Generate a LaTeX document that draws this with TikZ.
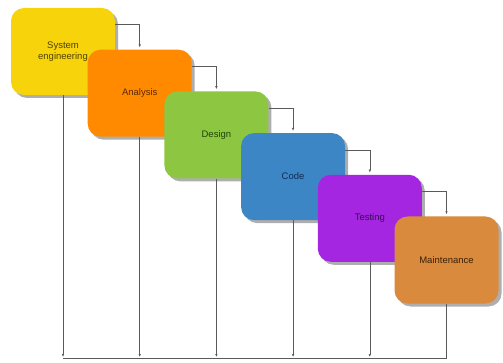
\documentclass[tikz,border=0pt]{standalone}
\usepackage{fontspec}
\setmainfont{Liberation Sans}
\usetikzlibrary{shadows,arrows.meta}
\definecolor{sysfill}{HTML}{F6D30A}\definecolor{systext}{HTML}{4F4200}
\definecolor{anafill}{HTML}{FF8A00}\definecolor{anatext}{HTML}{5A2A00}
\definecolor{desfill}{HTML}{8DC640}\definecolor{destext}{HTML}{1F4408}
\definecolor{codfill}{HTML}{3D86C6}\definecolor{codtext}{HTML}{0E2C55}
\definecolor{tesfill}{HTML}{A526E0}\definecolor{testext}{HTML}{3A0858}
\definecolor{maifill}{HTML}{D98A3C}\definecolor{maitext}{HTML}{3A2004}
\definecolor{wire}{HTML}{5A5A5A}
\begin{document}
\begin{tikzpicture}[x=1pt,y=-1pt,
    stagebox/.style={rounded corners=13pt, minimum width=104pt, minimum height=87pt,
      inner sep=0pt, align=center, font=\fontsize{9.5}{10.5}\selectfont,
      drop shadow={shadow xshift=3pt, shadow yshift=-3pt, opacity=0.45, fill=black!70}},
    wireline/.style={wire, line width=0.6pt},
    >={Latex[length=3pt,width=2.5pt]}]
  \useasboundingbox (0,0) rectangle (503,363);
  % stages, one step right and down each
  \foreach \nm/\lbl [count=\i from 0] in {sys/{System\\engineering}, ana/Analysis,
      des/Design, cod/Code, tes/Testing, mai/Maintenance}
    {
      \node[stagebox, fill=\nm fill, text=\nm text] (\nm) at (63+76.7*\i,51.5+41.7*\i) {\lbl};
    }
  % connectors between stages
  \foreach \a/\b in {sys/ana, ana/des, des/cod, cod/tes, tes/mai}
    \draw[wireline, ->, shorten >=2pt] ([yshift=-17pt]\a.north east) -| (\b.north);
  % feedback lines
  \coordinate (base) at (0,358);
  \foreach \a in {sys, ana, des, cod, tes}
    \draw[wireline, ->, shorten >=1pt] (\a.south) -- (\a.south |- base);
  \draw[wireline] (sys.south |- base) -- (mai.south |- base) -- (mai.south);
\end{tikzpicture}
\end{document}
